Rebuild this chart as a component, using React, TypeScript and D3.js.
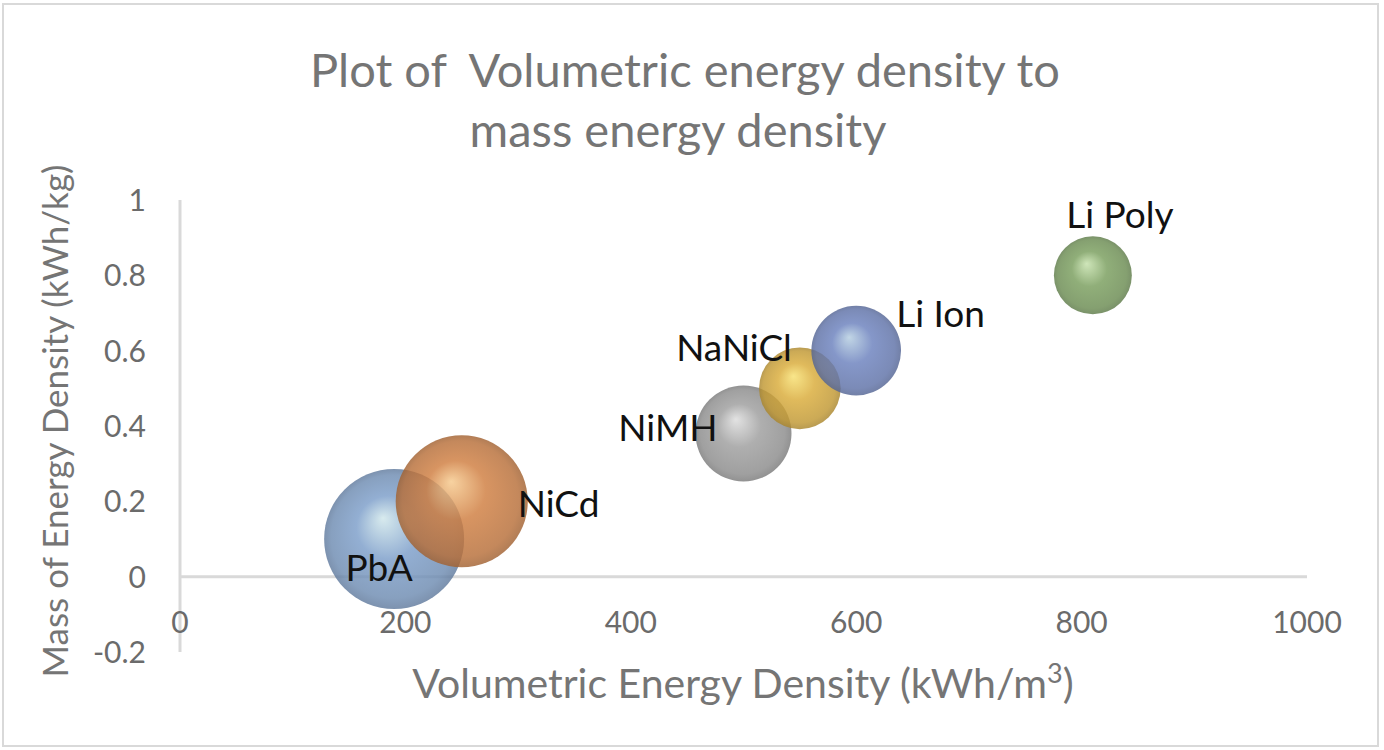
import { useEffect, useRef } from 'react'
import * as d3 from 'd3'

// Battery chemistries
const chemistries = ['PbA', 'NiCd', 'NiMH', 'NaNiCl', 'Li Ion', 'Li Poly']
const volumetric = [190, 250, 500, 550, 600, 810] // kWh/m3
const massDensity = [0.1, 0.2, 0.38, 0.5, 0.6, 0.8] // kWh/kg
const bubbleSize = [100, 89, 47, 34, 41, 31]

const xTicks = [0, 200, 400, 600, 800, 1000]
const yTicks = [-0.2, 0, 0.2, 0.4, 0.6, 0.8, 1]

// base / highlight colours for the 3D look
const baseColors = ['#7b9dc9', '#cf7d3f', '#9d9d9d', '#d9ab38', '#6a80bd', '#789d5c']
const lightColors = ['#cfe6ea', '#f6c98c', '#dcdcdc', '#f7e070', '#b4cde0', '#c4e0aa']

// label placement relative to the bubble centre (px)
const labelPos: { dx: number; dy: number; anchor: string }[] = [
  { dx: -15, dy: 42, anchor: 'middle' },
  { dx: 56, dy: 16, anchor: 'start' },
  { dx: -26, dy: 7, anchor: 'end' },
  { dx: -8, dy: -27, anchor: 'end' },
  { dx: 40, dy: -24, anchor: 'start' },
  { dx: 27, dy: -47, anchor: 'middle' },
]

export default function App() {
  const svgRef = useRef<SVGSVGElement>(null)

  useEffect(() => {
    if (!svgRef.current) return
    const svg = d3.select(svgRef.current)
    svg.selectAll('*').remove()

    const width = 1384
    const height = 750
    const font = 'Lato, "Open Sans", sans-serif'

    svg.attr('width', width).attr('height', height).attr('viewBox', `0 0 ${width} ${height}`)

    // outer frame
    svg.append('rect')
      .attr('x', 0).attr('y', 0)
      .attr('width', width).attr('height', height)
      .attr('fill', '#ffffff')
    svg.append('rect')
      .attr('x', 3).attr('y', 4)
      .attr('width', 1375).attr('height', 742)
      .attr('fill', 'none')
      .attr('stroke', '#d9d9d9')
      .attr('stroke-width', 2)

    const x = d3.scaleLinear().domain([0, 1000]).range([180, 1307])
    const y = d3.scaleLinear().domain([-0.2, 1]).range([652, 200])
    const r = d3.scaleSqrt().domain([0, 100]).range([0, 70])

    // gradients
    const defs = svg.append('defs')
    chemistries.forEach((_c, i) => {
      const grad = defs.append('radialGradient')
        .attr('id', `bub-${i}`)
        .attr('cx', '50%').attr('cy', '50%').attr('r', '50%')
        .attr('fx', '42%').attr('fy', '35%')
      grad.append('stop').attr('offset', '0%').attr('stop-color', lightColors[i])
      grad.append('stop').attr('offset', '45%').attr('stop-color', baseColors[i])
      grad.append('stop').attr('offset', '88%').attr('stop-color', d3.color(baseColors[i])!.darker(0.35).toString())
      grad.append('stop').attr('offset', '100%').attr('stop-color', d3.color(baseColors[i])!.darker(0.7).toString())
    })

    // axes lines
    svg.append('line')
      .attr('x1', x(0)).attr('x2', x(1000))
      .attr('y1', y(0)).attr('y2', y(0))
      .attr('stroke', '#d9d9d9').attr('stroke-width', 3)
    svg.append('line')
      .attr('x1', x(0)).attr('x2', x(0))
      .attr('y1', y(1)).attr('y2', y(-0.2))
      .attr('stroke', '#d9d9d9').attr('stroke-width', 3)

    // tick labels
    svg.append('g')
      .selectAll('text')
      .data(xTicks)
      .join('text')
      .attr('x', d => x(d))
      .attr('y', 633)
      .attr('text-anchor', 'middle')
      .attr('font-family', font)
      .attr('font-size', 30)
      .attr('fill', '#6b6b6b')
      .text(d => d)

    svg.append('g')
      .selectAll('text')
      .data(yTicks)
      .join('text')
      .attr('x', 146)
      .attr('y', d => y(d) + 11)
      .attr('text-anchor', 'end')
      .attr('font-family', font)
      .attr('font-size', 30)
      .attr('fill', '#6b6b6b')
      .text(d => d3.format('~g')(d).replace('−', '-'))

    // bubbles
    svg.append('g')
      .selectAll('circle')
      .data(chemistries)
      .join('circle')
      .attr('cx', (_d, i) => x(volumetric[i]))
      .attr('cy', (_d, i) => y(massDensity[i]))
      .attr('r', (_d, i) => r(bubbleSize[i]))
      .attr('fill', (_d, i) => `url(#bub-${i})`)
      .attr('fill-opacity', 0.82)

    // data labels
    svg.append('g')
      .selectAll('text')
      .data(chemistries)
      .join('text')
      .attr('x', (_d, i) => x(volumetric[i]) + labelPos[i].dx)
      .attr('y', (_d, i) => y(massDensity[i]) + labelPos[i].dy)
      .attr('text-anchor', (_d, i) => labelPos[i].anchor)
      .attr('font-family', font)
      .attr('font-size', 37)
      .attr('fill', '#111111')
      .text(d => d)

    // title
    const title = svg.append('text')
      .attr('text-anchor', 'middle')
      .attr('font-family', font)
      .attr('font-size', 47)
      .attr('fill', '#757575')
      .style('white-space', 'pre')
    title.append('tspan').attr('x', 685).attr('y', 87).text('Plot of  Volumetric energy density to')
    title.append('tspan').attr('x', 678).attr('y', 147).text('mass energy density')

    // x axis title
    const xt = svg.append('text')
      .attr('x', 743)
      .attr('y', 698)
      .attr('text-anchor', 'middle')
      .attr('font-family', font)
      .attr('font-size', 41)
      .attr('fill', '#757575')
    xt.append('tspan').text('Volumetric Energy Density (kWh/m')
    xt.append('tspan').attr('dy', -15).attr('font-size', 27).text('3')
    xt.append('tspan').attr('dy', 15).text(')')

    // y axis title
    svg.append('text')
      .attr('transform', `translate(68, 421) rotate(-90)`)
      .attr('text-anchor', 'middle')
      .attr('font-family', font)
      .attr('font-size', 35)
      .attr('fill', '#757575')
      .text('Mass of Energy Density (kWh/kg)')
  }, [])

  return (
    <div style={{ position: 'absolute', left: 0, top: 0 }}>
      <svg ref={svgRef} />
    </div>
  )
}
